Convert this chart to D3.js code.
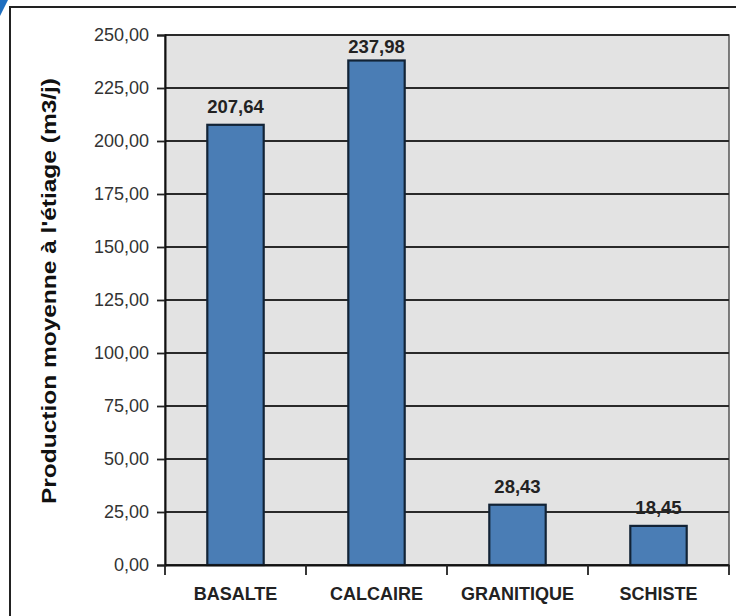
<!DOCTYPE html>
<html>
<head>
<meta charset="utf-8">
<script src="https://cdn.jsdelivr.net/npm/d3@7"></script>
<style>
  body { margin: 0; background: #fff; }
  svg { display: block; font-family: "Liberation Sans", Arial, sans-serif; }
</style>
</head>
<body>
<script>
// chart data
var categories = ['BASALTE', 'CALCAIRE', 'GRANITIQUE', 'SCHISTE'];
var values = [207.64, 237.98, 28.43, 18.45];
var yTicks = [0, 25, 50, 75, 100, 125, 150, 175, 200, 225, 250];
var yTitle = "Production moyenne à l'étiage (m3/j)";

var width = 736, height = 616;
var margin = {left: 165, right: 7, top: 35, bottom: 51};

var svg = d3.select('body').append('svg').attr('width', width).attr('height', height);

// outer frame
svg.append('rect').attr('x', 10).attr('y', 7).attr('width', 740).attr('height', 620)
  .attr('fill', '#fff').attr('stroke', '#222').attr('stroke-width', 2);
// little blue corner
svg.append('path').attr('d', 'M0,0 L8,0 L0,16 Z').attr('fill', '#1f6fc0');

var x = d3.scaleBand().domain(categories).range([margin.left, width - margin.right]);
var y = d3.scaleLinear().domain([0, 250]).range([height - margin.bottom, margin.top]);

function fmt(d) { return d.toFixed(2).replace('.', ','); }

// plot background
svg.append('rect').attr('x', x.range()[0]).attr('y', y(250))
  .attr('width', x.range()[1] - x.range()[0]).attr('height', y(0) - y(250))
  .attr('fill', '#e3e3e3').attr('stroke', '#555').attr('stroke-width', 1.5);

// gridlines
svg.append('g').selectAll('line').data(yTicks).enter().append('line')
  .attr('x1', x.range()[0]).attr('x2', x.range()[1])
  .attr('y1', function(d){ return y(d); }).attr('y2', function(d){ return y(d); })
  .attr('stroke', '#2a2a2a').attr('stroke-width', 1.8);

// bars
var barW = x.bandwidth() * 0.4;
svg.append('g').selectAll('rect').data(values).enter().append('rect')
  .attr('x', function(d, i){ return x(categories[i]) + (x.bandwidth() - barW) / 2; })
  .attr('y', function(d){ return y(d); })
  .attr('width', barW)
  .attr('height', function(d){ return y(0) - y(d); })
  .attr('fill', '#4a7db5').attr('stroke', '#122336').attr('stroke-width', 2.2);

// value labels (kept inside the plot area)
svg.append('g').selectAll('text').data(values).enter().append('text')
  .attr('x', function(d, i){ return x(categories[i]) + x.bandwidth() / 2; })
  .attr('y', function(d){ return Math.max(y(d) - 12, y(250) + 18); })
  .attr('text-anchor', 'middle').attr('font-size', 18.5).attr('font-weight', 'bold').attr('fill', '#222')
  .text(fmt);

// y axis
var yAxis = d3.axisLeft(y).tickValues(yTicks).tickSize(8).tickPadding(8).tickFormat(fmt);
var gy = svg.append('g').attr('transform', 'translate(' + margin.left + ',0)').call(yAxis);
gy.select('.domain').attr('stroke', '#111').attr('stroke-width', 2);
gy.selectAll('.tick line').attr('stroke', '#222').attr('stroke-width', 1.8);
gy.selectAll('.tick text').attr('font-size', 18).attr('fill', '#333');

// x axis
var xAxis = d3.axisBottom(x).tickSize(0).tickPadding(22);
var gx = svg.append('g').attr('transform', 'translate(0,' + y(0) + ')').call(xAxis);
gx.select('.domain').attr('stroke', '#111').attr('stroke-width', 2);
gx.selectAll('.tick text').attr('font-size', 18).attr('font-weight', 'bold').attr('fill', '#222');
// category separators
var seps = categories.map(function(c){ return x(c); }).concat([x.range()[1]]);
gx.selectAll('.sep').data(seps).enter().append('line').attr('class', 'sep')
  .attr('x1', function(d){ return d; }).attr('x2', function(d){ return d; })
  .attr('y1', 0).attr('y2', 10).attr('stroke', '#222').attr('stroke-width', 1.8);

// y title
svg.append('text')
  .attr('transform', 'translate(56,291) rotate(-90)')
  .attr('text-anchor', 'middle').attr('font-size', 20.5).attr('font-weight', 'bold').attr('fill', '#111')
  .attr('textLength', 426).attr('lengthAdjust', 'spacingAndGlyphs')
  .text(yTitle);
</script>
</body>
</html>
